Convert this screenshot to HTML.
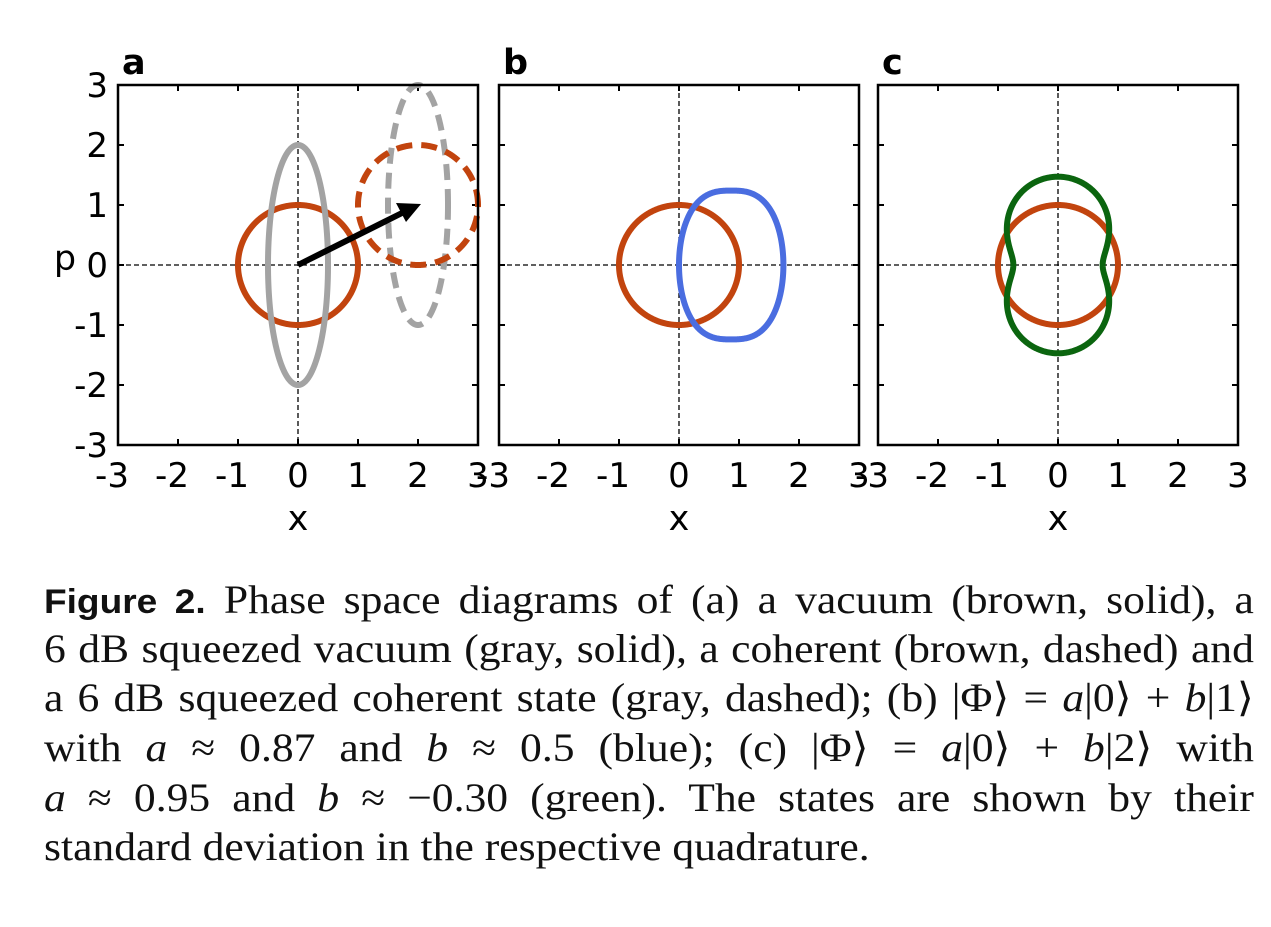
<!DOCTYPE html>
<html><head><meta charset="utf-8"><style>
body{margin:0;width:1271px;height:927px;background:#fff;overflow:hidden;position:relative}
.cap{position:absolute;left:44px;width:1110px;transform:scaleX(1.09);transform-origin:0 0;font-family:"Liberation Serif",serif;font-size:40px;line-height:40px;white-space:nowrap;text-align:justify;text-align-last:justify;color:#111}
.cap.last{text-align-last:left}
.cap b{font-family:"Liberation Sans",sans-serif;font-size:34px}
i{font-style:italic}
</style></head><body>
<svg id="s" width="1271" height="560" style="position:absolute;left:0;top:0" font-family="DejaVu Sans, sans-serif"></svg>
<div class="cap" style="top:580px"><b>Figure 2.</b> Phase space diagrams of (a) a vacuum (brown, solid), a</div>
<div class="cap" style="top:629px">6 dB squeezed vacuum (gray, solid), a coherent (brown, dashed) and</div>
<div class="cap" style="top:678px">a 6 dB squeezed coherent state (gray, dashed); (b) |Φ⟩ = <i>a</i>|0⟩ + <i>b</i>|1⟩</div>
<div class="cap" style="top:728px">with <i>a</i> ≈ 0.87 and <i>b</i> ≈ 0.5 (blue); (c) |Φ⟩ = <i>a</i>|0⟩ + <i>b</i>|2⟩ with</div>
<div class="cap" style="top:778px"><i>a</i> ≈ 0.95 and <i>b</i> ≈ −0.30 (green). The states are shown by their</div>
<div class="cap last" style="top:827px">standard deviation in the respective quadrature.</div>
<script>
(function(){
const s=document.getElementById('s');let h='';
const U=60,Y0=265,T=85,B=445;
const panels=[{L:118,c:'a'},{L:499,c:'b'},{L:878,c:'c'}];
function path(cx,f,col,extra){let d='';for(let i=0;i<=720;i++){const t=i/720*2*Math.PI;const p=f(t);d+=(i?'L':'M')+(cx+p[0]*U).toFixed(2)+','+(Y0-p[1]*U).toFixed(2);}
h+='<path d="'+d+'Z" fill="none" stroke="'+col+'" stroke-width="6" '+(extra||'')+'/>';}
panels.forEach(function(p){const L=p.L,R=L+360,cx=L+180;
h+=`<line x1="${cx}" y1="${T}" x2="${cx}" y2="${B}" stroke="#000" stroke-width="1.3" stroke-dasharray="5,3"/>`;
h+=`<line x1="${L}" y1="${Y0}" x2="${R}" y2="${Y0}" stroke="#000" stroke-width="1.3" stroke-dasharray="5,3"/>`;
for(let v=-2;v<=2;v++){const x=cx+v*U,y=Y0-v*U;
h+=`<line x1="${x}" y1="${T}" x2="${x}" y2="${T+6}" stroke="#000" stroke-width="2"/><line x1="${x}" y1="${B}" x2="${x}" y2="${B-6}" stroke="#000" stroke-width="2"/>`;
h+=`<line x1="${L}" y1="${y}" x2="${L+6}" y2="${y}" stroke="#000" stroke-width="2"/><line x1="${R}" y1="${y}" x2="${R-6}" y2="${y}" stroke="#000" stroke-width="2"/>`;}
for(let v=-3;v<=3;v++){h+=`<text x="${cx+v*U-(v<0?6:0)}" y="487" font-size="34" text-anchor="middle">${v<0?'-'+(-v):v}</text>`;}
h+=`<text x="${cx}" y="530" font-size="35" text-anchor="middle">x</text>`;
h+=`<text x="${L+4}" y="74" font-size="35" font-weight="bold">${p.c}</text>`;
});
for(let v=-3;v<=3;v++)h+=`<text x="108" y="${Y0-v*U+12}" font-size="34" text-anchor="end">${v<0?'-'+(-v):v}</text>`;
h+=`<text x="65" y="270" font-size="35" text-anchor="middle">p</text>`;
const BR='#c2440e',GR='#a3a3a3',BL='#4a6de0',GN='#0b650f';
let cx=298;
path(cx,t=>[Math.cos(t),Math.sin(t)],BR);
path(cx,t=>[0.5*Math.cos(t),2*Math.sin(t)],GR);
path(cx,t=>[2+0.5*Math.cos(t),1+2*Math.sin(t)],GR,'stroke-dasharray="16,9"');
path(cx,t=>[2+Math.cos(t),1+Math.sin(t)],BR,'stroke-dasharray="16,9"');
h+=`<line x1="${cx}" y1="${Y0}" x2="${cx+2*U-14}" y2="${Y0-U+7}" stroke="#000" stroke-width="6"/>`;
h+=`<polygon points="${cx+2*U+3},${Y0-U-1} ${cx+2*U-22},${Y0-U-2} ${cx+2*U-12},${Y0-U+17}" fill="#000"/>`;
cx=679;
path(cx,t=>[Math.cos(t),Math.sin(t)],BR);
const sp=(v,e)=>Math.sign(v)*Math.pow(Math.abs(v),e);
path(cx,t=>[0.87+0.87*sp(Math.cos(t),0.72),1.24*sp(Math.sin(t),1.0)],BL);
cx=1058;
path(cx,t=>[Math.cos(t),Math.sin(t)],BR);
path(cx,t=>{const r=Math.sqrt(1.36-0.806*Math.cos(2*t));return [r*Math.cos(t),r*Math.sin(t)]},GN);
panels.forEach(function(p){h+=`<rect x="${p.L}" y="${T}" width="360" height="360" fill="none" stroke="#000" stroke-width="2.5"/>`;});
s.innerHTML=h;
})();
</script>
</body></html>
